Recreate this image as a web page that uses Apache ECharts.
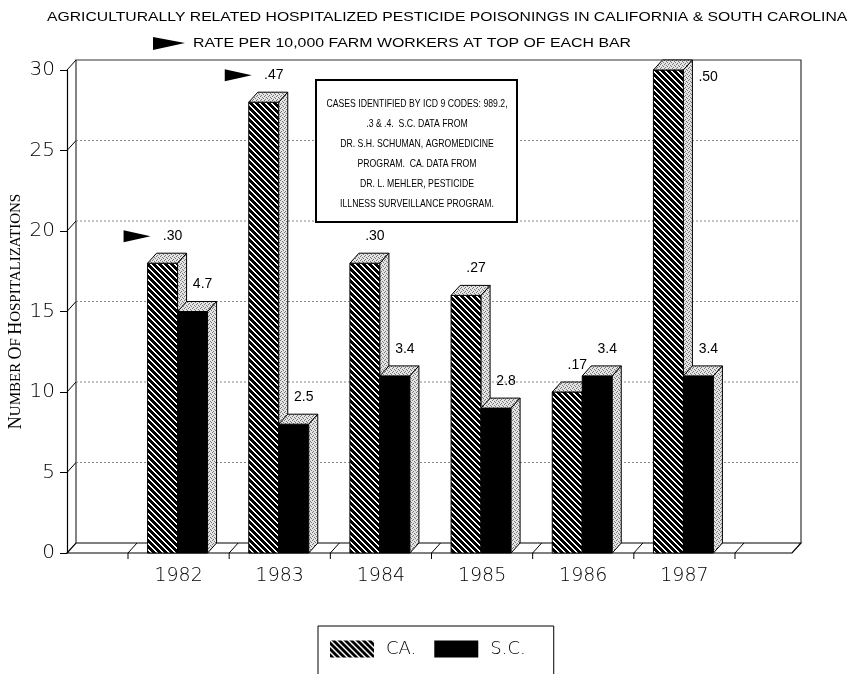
<!DOCTYPE html>
<html>
<head>
<meta charset="utf-8">
<script src="https://cdn.jsdelivr.net/npm/echarts@6/dist/echarts.min.js"></script>
<style>
  html, body { margin: 0; padding: 0; background: #fff; }
  #chart { width: 863px; height: 674px; }
</style>
</head>
<body>
<div id="chart"></div>
<script>
// Hospitalized pesticide poisonings by year
const years = ['1982', '1983', '1984', '1985', '1986', '1987'];
const caCases = [18, 28, 18, 16, 10, 30];
const scCases = [15, 8, 11, 9, 11, 11];
// Rate per 10,000 farm workers, printed above each bar
const caRates = ['.30', '.47', '.30', '.27', '.17', '.50'];
const scRates = ['4.7', '2.5', '3.4', '2.8', '3.4', '3.4'];
const yTicks = [0, 5, 10, 15, 20, 25, 30];
const arrowMarked = ['1982', '1983'];
const noteLines = [
  'CASES IDENTIFIED BY ICD 9 CODES: 989.2,',
  '.3 & .4.  S.C. DATA FROM',
  'DR. S.H. SCHUMAN, AGROMEDICINE',
  'PROGRAM.  CA. DATA FROM',
  'DR. L. MEHLER, PESTICIDE',
  'ILLNESS SURVEILLANCE PROGRAM.'
];

const yMax = yTicks[yTicks.length - 1];
const DX = 9, DY = -10;          // depth offset of the pseudo-3D box
const BAR_W = 30;
const SANS = '"Liberation Sans", Arial, sans-serif';
const THIN = '"DejaVu Sans", "Liberation Sans", sans-serif';
const SERIF = '"Liberation Serif", "DejaVu Serif", serif';

function makeTile(size, paint) {
  const c = document.createElement('canvas');
  c.width = c.height = size;
  paint(c.getContext('2d'));
  return c;
}
// diagonal hatch: white "\" stripes on black
const hatchTile = makeTile(6, ctx => {
  ctx.fillStyle = '#000';
  ctx.fillRect(0, 0, 6, 6);
  ctx.fillStyle = '#fff';
  for (let i = 0; i < 6; i++) {
    for (let j = 0; j < 6; j++) {
      if ((((i - j) % 6) + 6) % 6 < 2) ctx.fillRect(i, j, 1, 1);
    }
  }
});
// light stipple for the top and side faces
const stippleTile = makeTile(4, ctx => {
  ctx.fillStyle = '#e4e4e4';
  ctx.fillRect(0, 0, 4, 4);
  ctx.fillStyle = '#777';
  [[0, 0], [2, 1], [1, 3], [3, 2]].forEach(p => ctx.fillRect(p[0], p[1], 1, 1));
});
const hatchFill = { image: hatchTile, repeat: 'repeat' };
const stippleFill = { image: stippleTile, repeat: 'repeat' };

function renderRoom(params, api) {
  if (params.dataIndex !== 0) return;
  const cs = params.coordSys;
  const fl = cs.x - 61, fr = cs.x + cs.width + 57;
  const y0 = api.coord([0, 0])[1];
  const yT = api.coord([0, yMax])[1];
  const children = [];
  children.push({
    type: 'polygon',
    shape: { points: [[fl, y0], [fr, y0], [fr + DX, y0 + DY], [fl + DX, y0 + DY]] },
    style: { fill: '#fff', stroke: '#000', lineWidth: 1.2 }
  });
  children.push({
    type: 'polyline',
    shape: { points: [[fl + DX, y0 + DY], [fl + DX, yT + DY], [fr + DX, yT + DY], [fr + DX, y0 + DY]] },
    style: { fill: null, stroke: '#333', lineWidth: 1.2 }
  });
  children.push({
    type: 'line',
    shape: { x1: fl, y1: yT, x2: fl + DX, y2: yT + DY },
    style: { stroke: '#000', lineWidth: 1 }
  });
  yTicks.forEach(v => {
    if (v === 0 || v === yMax) return;
    const y = api.coord([0, v])[1];
    children.push({
      type: 'line',
      shape: { x1: fl + DX, y1: y + DY, x2: fr + DX, y2: y + DY },
      style: { stroke: '#888', lineWidth: 1, lineDash: [2, 2] }
    });
    children.push({
      type: 'line',
      shape: { x1: fl, y1: y, x2: fl + DX, y2: y + DY },
      style: { stroke: '#000', lineWidth: 1 }
    });
  });
  const band = api.size([1, 0])[0];
  for (let k = 0; k <= years.length; k++) {
    const x = cs.x + k * band;
    children.push({
      type: 'line',
      shape: { x1: x, y1: y0, x2: x, y2: y0 + 6 },
      style: { stroke: '#000', lineWidth: 1 }
    });
    children.push({
      type: 'line',
      shape: { x1: x, y1: y0, x2: x + DX, y2: y0 + DY },
      style: { stroke: '#000', lineWidth: 1 }
    });
  }
  return { type: 'group', children };
}

function makeBar(rates, offset, frontFill, withArrows) {
  return function (params, api) {
    const i = params.dataIndex;
    const pt = api.coord([api.value(0), api.value(1)]);
    const cx = pt[0], yT = pt[1];
    const y0 = api.coord([api.value(0), 0])[1];
    const x0 = cx + offset, x1 = x0 + BAR_W;
    const children = [
      {
        type: 'rect',
        shape: { x: x0, y: yT, width: BAR_W, height: y0 - yT },
        style: { fill: frontFill, stroke: '#000', lineWidth: 1 }
      },
      {
        type: 'polygon',
        shape: { points: [[x0, yT], [x1, yT], [x1 + DX, yT + DY], [x0 + DX, yT + DY]] },
        style: { fill: stippleFill, stroke: '#000', lineWidth: 1 }
      },
      {
        type: 'polygon',
        shape: { points: [[x1, yT], [x1 + DX, yT + DY], [x1 + DX, y0 + DY], [x1, y0]] },
        style: { fill: stippleFill, stroke: '#000', lineWidth: 1 }
      }
    ];
    let lx = x1 - 5, ly = yT + DY - 17, align = 'center';
    if (ly < params.coordSys.y - 8) {
      lx = x1 + DX + 6; ly = yT + DY + 17; align = 'left';
    }
    children.push({
      type: 'text',
      style: {
        text: rates[i], x: lx, y: ly, align: align, verticalAlign: 'middle',
        font: '14px ' + SANS, fill: '#000'
      }
    });
    if (withArrows && arrowMarked.indexOf(years[i]) >= 0) {
      const ax = lx - 22;
      children.push({
        type: 'polygon',
        shape: { points: [[ax - 27, ly - 6], [ax, ly], [ax - 27, ly + 6]] },
        style: { fill: '#000' }
      });
    }
    return { type: 'group', children };
  };
}

const chart = echarts.init(document.getElementById('chart'));
chart.setOption({
  animation: false,
  backgroundColor: '#fff',
  legend: {
    data: ['CA.', 'S.C.'],
    left: 318, top: 626,
    icon: 'rect',
    itemWidth: 44, itemHeight: 17, itemGap: 18,
    padding: [14, 28, 20, 12],
    borderColor: '#000', borderWidth: 1,
    textStyle: { fontFamily: THIN, fontWeight: 200, fontSize: 18, color: '#000', padding: [0, 0, 0, 7] }
  },
  grid: { left: 128, right: 128, top: 70, bottom: 121, outerBoundsMode: 'none', containLabel: false },
  xAxis: {
    type: 'category',
    data: years,
    axisLine: { show: false },
    axisTick: { show: false },
    axisLabel: { fontFamily: THIN, fontWeight: 200, fontSize: 19, color: '#000', margin: 14 }
  },
  yAxis: {
    type: 'value',
    min: 0, max: yMax, interval: 5,
    offset: 61,
    name: '{b|N}{s|UMBER} {b|O}{s|F} {b|H}{s|OSPITALIZATIONS}',
    nameLocation: 'middle', nameGap: 42, nameRotate: 90,
    nameMoveOverlap: false,
    nameTextStyle: {
      color: '#000',
      rich: {
        b: { fontFamily: SERIF, fontSize: 18, color: '#000' },
        s: { fontFamily: SERIF, fontSize: 15, color: '#000' }
      }
    },
    axisLine: { show: true, lineStyle: { color: '#000', width: 1.2 } },
    axisTick: { show: true, length: 7, lineStyle: { color: '#000' } },
    splitLine: { show: false },
    axisLabel: { fontFamily: THIN, fontWeight: 200, fontSize: 20, color: '#000', margin: 12 }
  },
  graphic: [
    {
      type: 'text', z: 10,
      x: 47, y: 17, scaleX: 1.21,
      style: {
        text: 'AGRICULTURALLY RELATED HOSPITALIZED PESTICIDE POISONINGS IN CALIFORNIA & SOUTH CAROLINA',
        align: 'left', verticalAlign: 'middle', font: '13px ' + SANS, fill: '#000'
      }
    },
    {
      type: 'text', z: 10,
      x: 193, y: 43, scaleX: 1.22,
      style: {
        text: 'RATE PER 10,000 FARM WORKERS AT TOP OF EACH BAR',
        align: 'left', verticalAlign: 'middle', font: '13px ' + SANS, fill: '#000'
      }
    },
    {
      type: 'polygon', z: 10,
      shape: { points: [[153, 37], [185, 43], [153, 50]] },
      style: { fill: '#000' }
    },
    {
      type: 'rect', z: 10,
      shape: { x: 316, y: 80, width: 201, height: 142 },
      style: { fill: '#fff', stroke: '#000', lineWidth: 2 }
    },
    {
      type: 'text', z: 11,
      x: 417, y: 154, scaleX: 0.79,
      style: {
        text: noteLines.join('\n'), align: 'center', verticalAlign: 'middle',
        lineHeight: 20, font: '11px ' + SANS, fill: '#000'
      }
    }
  ],
  series: [
    {
      name: 'room', type: 'custom', z: 1, clip: false, silent: true,
      data: [[0, 0]], encode: { x: 0, y: 1 },
      renderItem: renderRoom
    },
    {
      name: 'CA.', type: 'custom', z: 2, clip: false,
      itemStyle: { color: hatchFill },
      data: caCases.map((v, i) => [i, v]), encode: { x: 0, y: 1 },
      renderItem: makeBar(caRates, -31, hatchFill, true)
    },
    {
      name: 'S.C.', type: 'custom', z: 3, clip: false,
      itemStyle: { color: '#000' },
      data: scCases.map((v, i) => [i, v]), encode: { x: 0, y: 1 },
      renderItem: makeBar(scRates, -1, '#000', false)
    }
  ]
});
</script>
</body>
</html>
